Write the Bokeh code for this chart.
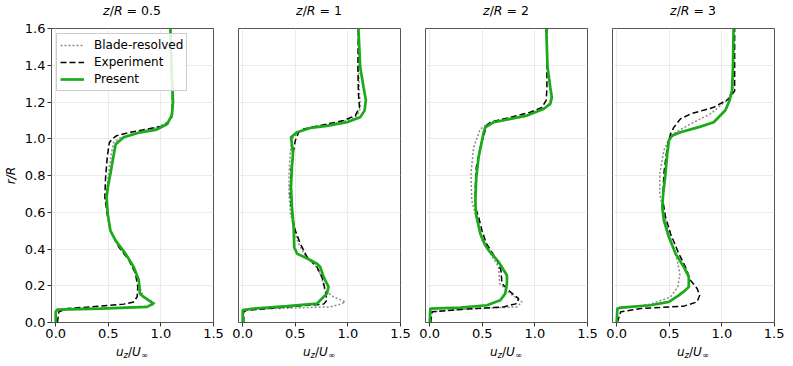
from bokeh.plotting import figure
from bokeh.layouts import row, column
from bokeh.models import Range1d, FixedTicker, Legend, LegendItem, NumeralTickFormatter, Div
from bokeh.embed import file_html
from bokeh.resources import INLINE

# ---------------- data ----------------
titles = ["0.5", "1", "2", "3"]
x_ticks = [0.0, 0.5, 1.0, 1.5]
y_ticks = [0.0, 0.2, 0.4, 0.6, 0.8, 1.0, 1.2, 1.4, 1.6]

# z/R = 0.5
blade_y_05 = [0.0, 0.06, 0.07, 0.078, 0.088, 0.103, 0.14, 0.17, 0.23, 0.30, 0.375, 0.45, 0.50, 0.59, 0.68, 0.80, 0.92, 0.98, 1.008, 1.035, 1.06, 1.09, 1.13, 1.2, 1.4, 1.6]
blade_x_05 = [0.0, 0.0, 0.02, 0.45, 0.88, 0.947, 0.84, 0.81, 0.79, 0.74, 0.66, 0.565, 0.52, 0.49, 0.48, 0.50, 0.53, 0.55, 0.62, 0.78, 0.95, 1.07, 1.10, 1.11, 1.10, 1.09]
exp_y_05 = [0.0, 0.058, 0.076, 0.089, 0.10, 0.112, 0.14, 0.194, 0.266, 0.34, 0.41, 0.50, 0.59, 0.68, 0.79, 0.90, 0.98, 1.0, 1.017, 1.035, 1.053, 1.07, 1.11, 1.15, 1.25, 1.4, 1.6]
exp_x_05 = [0.016, 0.03, 0.11, 0.426, 0.647, 0.742, 0.774, 0.78, 0.758, 0.695, 0.60, 0.52, 0.49, 0.467, 0.474, 0.49, 0.51, 0.54, 0.58, 0.71, 0.87, 1.03, 1.10, 1.11, 1.11, 1.10, 1.09]
pres_y_05 = [0.0, 0.058, 0.07, 0.076, 0.085, 0.103, 0.139, 0.157, 0.23, 0.302, 0.375, 0.447, 0.50, 0.59, 0.68, 0.75, 0.81, 0.917, 0.97, 1.008, 1.035, 1.05, 1.08, 1.13, 1.2, 1.4, 1.6]
pres_x_05 = [0.0, 0.0, 0.016, 0.426, 0.868, 0.93, 0.837, 0.80, 0.79, 0.742, 0.663, 0.568, 0.52, 0.495, 0.483, 0.50, 0.52, 0.553, 0.57, 0.647, 0.805, 0.96, 1.06, 1.105, 1.115, 1.10, 1.09]

# z/R = 1
blade_y_1 = [0.0, 0.065, 0.072, 0.085, 0.10, 0.112, 0.139, 0.176, 0.248, 0.302, 0.36, 0.43, 0.50, 0.59, 0.70, 0.80, 0.90, 0.97, 1.008, 1.035, 1.06, 1.08, 1.10, 1.126, 1.17, 1.25, 1.4, 1.6]
blade_x_1 = [0.0, 0.0, 0.1, 0.83, 0.93, 0.975, 0.864, 0.78, 0.75, 0.70, 0.60, 0.53, 0.49, 0.455, 0.44, 0.44, 0.45, 0.46, 0.48, 0.53, 0.65, 0.85, 1.0, 1.09, 1.12, 1.11, 1.10, 1.10]
exp_y_1 = [0.0, 0.058, 0.067, 0.085, 0.10, 0.121, 0.176, 0.248, 0.302, 0.357, 0.43, 0.50, 0.59, 0.70, 0.827, 0.936, 0.99, 1.035, 1.053, 1.072, 1.099, 1.126, 1.17, 1.245, 1.39, 1.6]
exp_x_1 = [0.01, 0.01, 0.04, 0.421, 0.769, 0.80, 0.785, 0.753, 0.706, 0.611, 0.547, 0.50, 0.468, 0.452, 0.459, 0.484, 0.50, 0.532, 0.579, 0.737, 0.959, 1.07, 1.11, 1.10, 1.095, 1.10]
pres_y_1 = [0.0, 0.067, 0.076, 0.089, 0.103, 0.121, 0.157, 0.194, 0.248, 0.302, 0.32, 0.34, 0.375, 0.41, 0.52, 0.628, 0.737, 0.845, 0.917, 0.97, 1.008, 1.035, 1.059, 1.07, 1.09, 1.117, 1.153, 1.21, 1.28, 1.39, 1.6]
pres_x_1 = [0.0, 0.0, 0.104, 0.421, 0.706, 0.737, 0.80, 0.816, 0.769, 0.737, 0.706, 0.642, 0.516, 0.49, 0.484, 0.468, 0.459, 0.468, 0.478, 0.468, 0.459, 0.516, 0.642, 0.80, 0.99, 1.117, 1.158, 1.171, 1.149, 1.117, 1.10]

# z/R = 2
blade_y_2 = [0.0, 0.058, 0.071, 0.085, 0.112, 0.157, 0.212, 0.302, 0.375, 0.448, 0.556, 0.664, 0.81, 0.954, 1.053, 1.08, 1.10, 1.126, 1.162, 1.19, 1.225, 1.28, 1.39, 1.6]
blade_x_2 = [0.0, 0.006, 0.291, 0.829, 0.877, 0.766, 0.665, 0.655, 0.576, 0.497, 0.449, 0.40, 0.392, 0.418, 0.48, 0.55, 0.72, 0.93, 1.08, 1.14, 1.155, 1.14, 1.12, 1.108]
exp_y_2 = [0.0, 0.058, 0.071, 0.085, 0.103, 0.13, 0.167, 0.212, 0.285, 0.339, 0.43, 0.50, 0.574, 0.628, 0.737, 0.845, 0.954, 1.026, 1.072, 1.09, 1.117, 1.144, 1.17, 1.21, 1.28, 1.39, 1.6]
exp_x_2 = [0.01, 0.022, 0.291, 0.703, 0.829, 0.845, 0.766, 0.687, 0.677, 0.639, 0.538, 0.497, 0.465, 0.434, 0.434, 0.443, 0.481, 0.519, 0.538, 0.576, 0.766, 0.956, 1.066, 1.108, 1.114, 1.114, 1.114]
pres_y_2 = [0.0, 0.076, 0.081, 0.094, 0.121, 0.157, 0.212, 0.257, 0.33, 0.393, 0.42, 0.483, 0.592, 0.664, 0.79, 0.90, 0.99, 1.035, 1.062, 1.09, 1.108, 1.126, 1.162, 1.19, 1.225, 1.28, 1.39, 1.6]
pres_x_2 = [0.0, 0.006, 0.291, 0.544, 0.671, 0.718, 0.734, 0.734, 0.655, 0.56, 0.528, 0.481, 0.44, 0.434, 0.443, 0.465, 0.497, 0.513, 0.528, 0.608, 0.766, 0.924, 1.082, 1.146, 1.161, 1.146, 1.12, 1.108]

# z/R = 3
blade_y_3 = [0.0, 0.07, 0.076, 0.10, 0.139, 0.194, 0.266, 0.339, 0.43, 0.52, 0.628, 0.70, 0.81, 0.936, 1.0, 1.035, 1.08, 1.135, 1.21, 1.27, 1.39, 1.6]
blade_x_3 = [0.0, 0.006, 0.038, 0.322, 0.512, 0.581, 0.60, 0.575, 0.527, 0.48, 0.433, 0.41, 0.41, 0.448, 0.496, 0.559, 0.70, 0.89, 1.05, 1.11, 1.11, 1.11]
exp_y_3 = [0.0, 0.058, 0.076, 0.089, 0.112, 0.148, 0.185, 0.23, 0.302, 0.375, 0.483, 0.574, 0.664, 0.81, 0.954, 1.026, 1.062, 1.108, 1.135, 1.171, 1.216, 1.26, 1.39, 1.6]
exp_x_3 = [0.006, 0.038, 0.227, 0.638, 0.764, 0.789, 0.764, 0.701, 0.654, 0.59, 0.512, 0.464, 0.439, 0.448, 0.48, 0.512, 0.543, 0.606, 0.701, 0.922, 1.064, 1.121, 1.121, 1.121]
pres_y_3 = [0.0, 0.076, 0.081, 0.094, 0.112, 0.148, 0.176, 0.194, 0.248, 0.302, 0.375, 0.465, 0.556, 0.628, 0.70, 0.81, 0.918, 0.99, 1.017, 1.035, 1.066, 1.09, 1.155, 1.21, 1.264, 1.39, 1.6]
pres_x_3 = [0.0, 0.006, 0.038, 0.322, 0.496, 0.59, 0.654, 0.685, 0.685, 0.638, 0.559, 0.496, 0.448, 0.433, 0.442, 0.464, 0.48, 0.496, 0.527, 0.606, 0.796, 0.922, 1.033, 1.074, 1.096, 1.105, 1.111]

panels = [
    (titles[0], blade_x_05, blade_y_05, exp_x_05, exp_y_05, pres_x_05, pres_y_05),
    (titles[1], blade_x_1, blade_y_1, exp_x_1, exp_y_1, pres_x_1, pres_y_1),
    (titles[2], blade_x_2, blade_y_2, exp_x_2, exp_y_2, pres_x_2, pres_y_2),
    (titles[3], blade_x_3, blade_y_3, exp_x_3, exp_y_3, pres_x_3, pres_y_3),
]

# ---------------- styling ----------------
FONT = "DejaVu Sans"
GREEN = "#1aaa1a"
BLACK = "#000000"
GRAY = "#8c8c8c"
SPINE = "#555555"
GRID = "#ebebeb"
X0, X1 = -0.04, 1.5

FRAME_W = 162
FRAME_H = 294
TOP, BOTTOM = 9, 22
TITLE_H, XLABEL_H = 19, 16
borders = [(51, 12), (13, 12), (13, 12), (13, 10)]
TICK_FS = "13px"

cols = []
for i, (ttl, bx, by, ex, ey, px, py) in enumerate(panels):
    bl, br = borders[i]
    fw = bl + FRAME_W + br
    p = figure(width=fw, height=TOP + FRAME_H + BOTTOM, output_backend="svg", toolbar_location=None,
               x_range=Range1d(X0, X1), y_range=Range1d(0, 1.6),
               min_border_left=bl, min_border_right=br, min_border_top=TOP, min_border_bottom=BOTTOM)
    p.background_fill_color = "white"
    p.border_fill_color = "white"
    p.outline_line_color = SPINE
    p.outline_line_width = 1

    rb = p.line(bx, by, line_color=GRAY, line_width=1.5, line_dash="2 2")
    re = p.line(ex, ey, line_color=BLACK, line_width=1.5, line_dash="6 3")
    rp = p.line(px, py, line_color=GREEN, line_width=2.7)

    p.xgrid.ticker = FixedTicker(ticks=x_ticks)
    p.ygrid.ticker = FixedTicker(ticks=y_ticks)
    for g in (p.xgrid, p.ygrid):
        g.grid_line_color = GRID
        g.grid_line_width = 1

    xa = p.xaxis[0]
    xa.ticker = FixedTicker(ticks=x_ticks)
    xa.formatter = NumeralTickFormatter(format="0.0")
    xa.axis_line_color = None
    xa.major_tick_line_color = "#333333"
    xa.major_tick_out = 4
    xa.major_tick_in = 0
    xa.minor_tick_out = 0
    xa.minor_tick_in = 0
    xa.major_label_text_font = FONT
    xa.major_label_text_font_size = TICK_FS
    xa.major_label_text_color = "black"
    xa.major_label_standoff = 2

    ya = p.yaxis[0]
    if i == 0:
        ya.ticker = FixedTicker(ticks=y_ticks)
        ya.formatter = NumeralTickFormatter(format="0.0")
        ya.axis_line_color = None
        ya.major_tick_line_color = "#333333"
        ya.major_tick_out = 4
        ya.major_tick_in = 0
        ya.minor_tick_out = 0
        ya.minor_tick_in = 0
        ya.major_label_text_font = FONT
        ya.major_label_text_font_size = TICK_FS
        ya.major_label_text_color = "black"
        ya.major_label_standoff = 2
        ya.axis_label = "r/R"
        ya.axis_label_text_font = FONT
        ya.axis_label_text_font_size = "12px"
        ya.axis_label_text_font_style = "italic"
        ya.axis_label_text_color = "black"
        ya.axis_label_standoff = 4
    else:
        ya.visible = False

    if i == 0:
        legend = Legend(items=[LegendItem(label="Blade-resolved", renderers=[rb]),
                               LegendItem(label="Experiment", renderers=[re]),
                               LegendItem(label="Present", renderers=[rp])],
                        location="top_left", margin=5, padding=3, spacing=1,
                        glyph_width=24, glyph_height=16, label_height=16, label_standoff=10,
                        label_text_font=FONT, label_text_font_size="12px", label_text_color="black",
                        border_line_color="#999999", border_line_width=1,
                        background_fill_color="white", background_fill_alpha=0.85)
        p.add_layout(legend)

    title_html = (f'<div style="margin-left:{bl}px;width:{FRAME_W}px;text-align:center;padding-top:3px;'
                  f'font-family:\'DejaVu Sans\';font-size:12.5px;line-height:16px;color:black;white-space:nowrap">'
                  f'<i>z</i>/<i>R</i> = {ttl}</div>')
    xlabel_html = (f'<div style="margin-left:{bl}px;width:{FRAME_W}px;text-align:center;'
                   f'font-family:\'DejaVu Sans\';font-size:12px;line-height:14px;color:black;white-space:nowrap">'
                   f'<i>u</i><span style="font-size:8.5px;position:relative;top:2px"><i>z</i></span>/'
                   f'<i>U</i><span style="font-size:8.5px;position:relative;top:2px">\u221e</span></div>')
    t_div = Div(text=title_html, width=fw, height=TITLE_H, margin=0)
    x_div = Div(text=xlabel_html, width=fw, height=XLABEL_H, margin=0)
    cols.append(column(t_div, p, x_div, spacing=0))

layout = row(*cols, spacing=0)
open("out.html", "w").write(file_html(layout, INLINE))
